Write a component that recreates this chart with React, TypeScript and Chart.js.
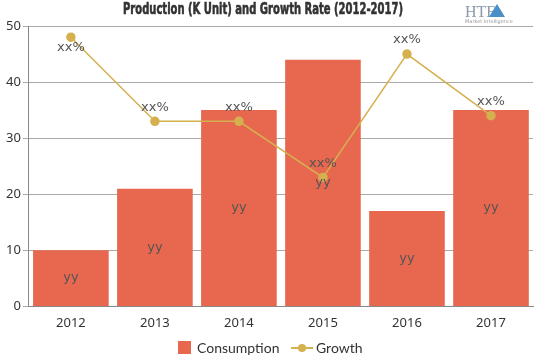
import React, { useEffect, useRef } from "react";
import { Chart, registerables } from "chart.js";

Chart.register(...registerables);

const categories = ["2012", "2013", "2014", "2015", "2016", "2017"];
const consumption = [10, 21, 35, 44, 17, 35];
const growth = [48, 33, 33, 23, 45, 34];
const barLabels = ["yy", "yy", "yy", "yy", "yy", "yy"];
const growthLabels = ["xx%", "xx%", "xx%", "xx%", "xx%", "xx%"];
const titleText = "Production (K Unit) and Growth Rate (2012-2017)";
const seriesNames = ["Consumption", "Growth"];

const BAR_COLOR = "#E8684F";
const LINE_COLOR = "#D4B04E";

const labelPlugin = {
  id: "valueLabels",
  afterDatasetsDraw(chart: any) {
    const ctx = chart.ctx;
    ctx.save();
    ctx.textAlign = "center";
    ctx.textBaseline = "middle";
    ctx.fillStyle = "#555";
    ctx.font = "13px 'DejaVu Sans'";
    const barMeta = chart.getDatasetMeta(0);
    barMeta.data.forEach((el: any, i: number) => {
      const y = (el.y + el.base) / 2;
      ctx.fillText(barLabels[i], el.x, y);
    });
    const lineMeta = chart.getDatasetMeta(1);
    const top = chart.chartArea.top;
    lineMeta.data.forEach((el: any, i: number) => {
      let y = el.y - 14;
      if (y < top + 12) y = el.y + 10;
      ctx.fillText(growthLabels[i], el.x, y);
    });
    ctx.restore();
  },
};

const decorPlugin = {
  id: "decor",
  afterDraw(chart: any) {
    const ctx = chart.ctx;
    ctx.save();
    // title, condensed to match the reference width
    ctx.font = "bold 15px 'DejaVu Sans'";
    ctx.textBaseline = "middle";
    ctx.textAlign = "left";
    const w = ctx.measureText(titleText).width;
    const target = 280;
    const sx = target / w;
    ctx.save();
    ctx.translate(263 - target / 2, 10);
    ctx.scale(sx, 1);
    ctx.fillStyle = "#333";
    ctx.strokeStyle = "#333";
    ctx.lineWidth = 0.6;
    ctx.fillText(titleText, 0, 0);
    ctx.strokeText(titleText, 0, 0);
    ctx.restore();

    // logo
    ctx.fillStyle = "#8a9aa8";
    ctx.font = "16px 'Liberation Serif'";
    ctx.textBaseline = "alphabetic";
    ctx.fillText("HTF", 465, 17);
    ctx.fillStyle = "#4a90c8";
    ctx.beginPath();
    ctx.moveTo(497, 4);
    ctx.lineTo(505, 17);
    ctx.lineTo(489, 17);
    ctx.closePath();
    ctx.fill();
    ctx.fillStyle = "#999";
    ctx.font = "5px 'DejaVu Sans'";
    ctx.fillText("Market Intelligence", 465, 23);

    // legend
    const ly = 348;
    ctx.font = "14px Lato";
    ctx.textBaseline = "middle";
    ctx.fillStyle = BAR_COLOR;
    ctx.fillRect(178, ly - 7, 13, 13);
    ctx.fillStyle = "#333";
    ctx.fillText(seriesNames[0], 197, ly);
    const gx = 291;
    ctx.strokeStyle = LINE_COLOR;
    ctx.lineWidth = 2;
    ctx.beginPath();
    ctx.moveTo(gx, ly);
    ctx.lineTo(gx + 22, ly);
    ctx.stroke();
    ctx.fillStyle = LINE_COLOR;
    ctx.beginPath();
    ctx.arc(gx + 11, ly, 4, 0, Math.PI * 2);
    ctx.fill();
    ctx.fillStyle = "#333";
    ctx.fillText(seriesNames[1], 316, ly);
    ctx.restore();
  },
};

export default function App() {
  const ref = useRef<HTMLCanvasElement>(null);
  useEffect(() => {
    document.body.style.margin = "0";
    const chart = new Chart(ref.current!, {
      type: "bar",
      data: {
        labels: categories,
        datasets: [
          {
            type: "bar",
            label: seriesNames[0],
            data: consumption,
            backgroundColor: BAR_COLOR,
            barPercentage: 0.9,
            categoryPercentage: 1,
            order: 2,
          },
          {
            type: "line",
            label: seriesNames[1],
            data: growth,
            borderColor: LINE_COLOR,
            backgroundColor: LINE_COLOR,
            borderWidth: 1.5,
            pointRadius: 4,
            pointBackgroundColor: LINE_COLOR,
            pointBorderColor: LINE_COLOR,
            tension: 0,
            order: 1,
          },
        ] as any,
      },
      options: {
        responsive: false,
        animation: false,
        layout: { padding: { left: 4, right: 6, top: 26, bottom: 27 } },
        plugins: {
          title: { display: false },
          legend: { display: false },
          tooltip: { enabled: false },
        },
        scales: {
          x: {
            grid: { display: false },
            border: { display: true, color: "#888" },
            ticks: { color: "#333", font: { family: "'Noto Sans'", size: 13 }, padding: 1 },
          },
          y: {
            min: 0,
            max: 50,
            ticks: { stepSize: 10, color: "#333", font: { family: "'Noto Sans'", size: 13 }, padding: 2 },
            grid: { color: "#aaa", tickLength: 6, drawTicks: true },
            border: { display: true, color: "#888" },
          },
        },
      },
      plugins: [labelPlugin, decorPlugin],
    } as any);
    return () => chart.destroy();
  }, []);
  return <canvas ref={ref} width={539} height={359} style={{ display: "block" }} />;
}
